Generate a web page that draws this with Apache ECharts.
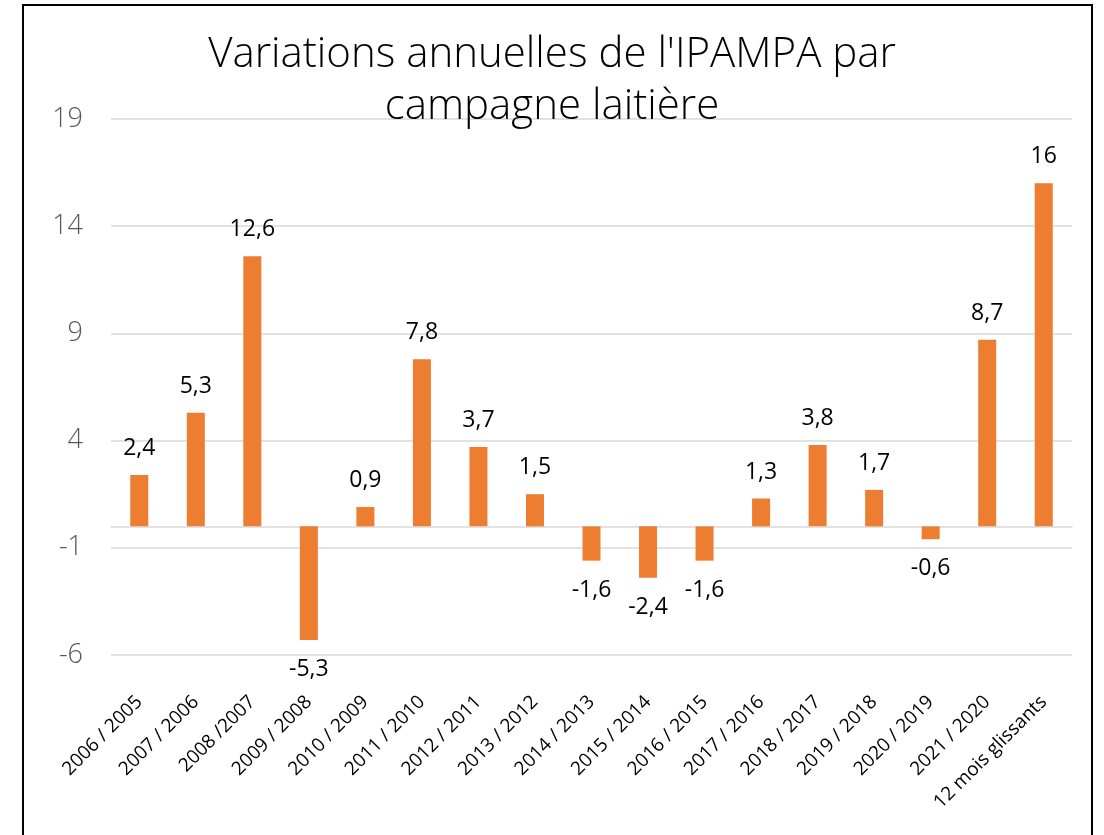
<!DOCTYPE html>
<html>
<head>
<meta charset="utf-8">
<script src="https://cdn.jsdelivr.net/npm/echarts@6/dist/echarts.min.js"></script>
<style>
  html, body { margin: 0; padding: 0; background: #fff; }
  #chart { width: 1104px; height: 835px; }
</style>
</head>
<body>
<div id="chart"></div>
<script>
// campagnes laitières
const categories = [
  '2006 / 2005', '2007 / 2006', '2008 /2007', '2009 / 2008', '2010 / 2009',
  '2011 / 2010', '2012 / 2011', '2013 / 2012', '2014 / 2013', '2015 / 2014',
  '2016 / 2015', '2017 / 2016', '2018 / 2017', '2019 / 2018', '2020 / 2019',
  '2021 / 2020', '12 mois glissants'
];
const variations = [2.4, 5.3, 12.6, -5.3, 0.9, 7.8, 3.7, 1.5, -1.6, -2.4, -1.6, 1.3, 3.8, 1.7, -0.6, 8.7, 16];
const yTicks = { min: -6, max: 19, step: 5 };

const chart = echarts.init(document.getElementById('chart'));

const fmt = v => String(v).replace('.', ',');

const option = {
  animation: false,
  title: {
    text: "Variations annuelles de l'IPAMPA par\ncampagne laitière",
    left: 'center',
    top: 24,
    textStyle: {
      fontFamily: 'Open Sans',
      fontWeight: 300,
      fontSize: 42,
      lineHeight: 52,
      color: '#000'
    }
  },
  graphic: [{
    type: 'rect',
    shape: { x: 23, y: 5, width: 1069, height: 845 },
    style: { fill: 'none', stroke: '#000', lineWidth: 2 },
    z: 10
  }],
  grid: { left: 111, right: 32, top: 119, bottom: 180 },
  xAxis: {
    type: 'category',
    data: categories,
    axisLine: { onZero: true, lineStyle: { color: '#d9d9d9', width: 1.5 } },
    axisTick: { show: false },
    axisLabel: {
      rotate: 45,
      interval: 0,
      fontFamily: 'Open Sans',
      fontSize: 19,
      color: '#000',
      margin: 44
    }
  },
  yAxis: {
    type: 'value',
    min: yTicks.min,
    max: yTicks.max,
    interval: yTicks.step,
    axisLine: { show: false },
    axisTick: { show: false },
    axisLabel: {
      fontFamily: 'Open Sans',
      fontWeight: 300,
      fontSize: 27,
      color: '#595959',
      margin: 28
    },
    splitLine: { lineStyle: { color: '#d9d9d9', width: 1.5 } }
  },
  series: [{
    type: 'bar',
    barWidth: 18,
    data: variations.map(v => ({
      value: v,
      label: v < 0 ? { position: 'bottom', distance: 18 } : { position: 'top', distance: 15 }
    })),
    itemStyle: { color: '#ed7d31' },
    label: {
      show: true,
      fontFamily: 'Open Sans',
      fontSize: 23,
      color: '#000',
      formatter: p => fmt(p.value)
    }
  }]
};

chart.setOption(option);
</script>
</body>
</html>
